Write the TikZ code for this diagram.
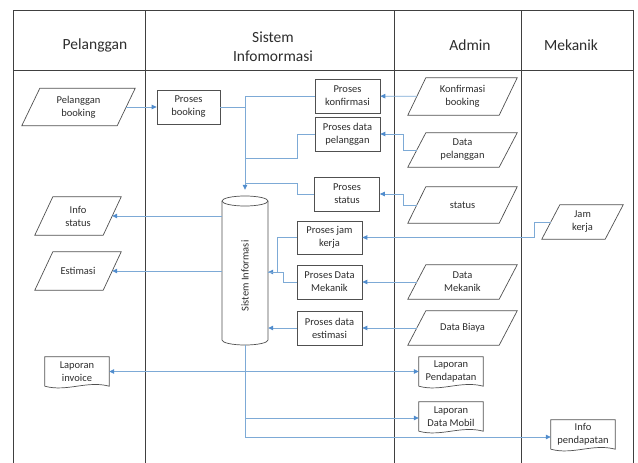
\documentclass[tikz,border=0pt]{standalone}
\usepackage{fontspec}
\setmainfont{Carlito}
\usetikzlibrary{arrows.meta}
\definecolor{lanec}{RGB}{64,64,64}
\definecolor{shpc}{RGB}{80,80,80}
\definecolor{txtc}{RGB}{45,45,45}
\definecolor{linec}{RGB}{125,170,214}
\definecolor{arrc}{RGB}{80,140,205}
\tikzset{
  lane/.style={draw=lanec, line width=0.8pt},
  head/.style={font=\fontsize{15.5}{19}\selectfont, text=txtc, align=center},
  shp/.style={draw=shpc, line width=0.7pt},
  nodetext/.style={font=\fontsize{10.5}{13}\selectfont, text=txtc, align=center, inner sep=0pt},
  procbox/.style={nodetext, shp, fill=white, minimum width=65pt, minimum height=34pt},
  parabox/.style={nodetext, minimum height=36pt},
  docbox/.style={nodetext, minimum width=64pt, minimum height=29pt},
  ln/.style={draw=linec, line width=0.8pt},
  arr/.style={ln, -{Triangle[length=5pt,width=4.5pt,color=arrc]}},
  darr/.style={ln, {Triangle[length=5pt,width=4.5pt,color=arrc]}-{Triangle[length=5pt,width=4.5pt,color=arrc]}},
}
\newcommand\parafr[1]{\draw[shp] ([xshift=9pt]#1.north west) -- ([xshift=9pt]#1.north east) -- ([xshift=-9pt]#1.south east) -- ([xshift=-9pt]#1.south west) -- cycle;}
\newcommand\docfr[1]{\draw[shp] (#1.south west) -- (#1.north west) -- (#1.north east) -- (#1.south east) .. controls +(-22,-6) and +(22,6) .. (#1.south west);}
\begin{document}
\begin{tikzpicture}[x=1pt,y=-1pt]
\useasboundingbox (0,0) rectangle (638,463);
% lanes
\draw[lane] (13,463) -- (13,10) -- (633,10) -- (633,463);
\draw[lane] (13,70) -- (633,70);
\draw[lane] (145,10) -- (145,463);
\draw[lane] (394,10) -- (394,463);
\draw[lane] (521,10) -- (521,463);
\node[head] (h1) at (95,45) {Pelanggan};
\node[head] (h2) at (273,47) {Sistem\\Infomormasi};
\node[head] (h3) at (470,45) {Admin};
\node[head] (h4) at (571,45) {Mekanik};

% Pelanggan lane
\node[parabox, minimum width=95pt, minimum height=37pt] (pb) at (78.5,107) {Pelanggan\\booking};
\node[parabox, minimum width=68pt, minimum height=38pt] (is) at (78,216) {Info\\status};
\node[parabox, minimum width=68pt, minimum height=38pt] (es) at (78,271) {Estimasi};
\node[docbox] (li) at (77,371.5) {Laporan\\invoice};

% Sistem lane
\node[procbox, minimum width=63pt] (prb) at (188.5,107) {Proses\\booking};
\node[procbox] (pk) at (347.5,96) {Proses\\konfirmasi};
\node[procbox] (pdp) at (347.5,134) {Proses data\\pelanggan};
\node[procbox] (ps) at (347,194) {Proses\\status};
\node[procbox, minimum height=33pt] (pjk) at (329.5,237.5) {Proses jam\\kerja};
\node[procbox] (pdm) at (329.5,282) {Proses Data\\Mekanik};
\node[procbox] (pde) at (329.5,328) {Proses data\\estimasi};

% cylinder
\draw[shp, fill=white] (222,201) -- (222,340) arc[start angle=180, end angle=360, x radius=23pt, y radius=5pt] -- (268,201);
\draw[shp, fill=white] (245,201) ellipse[x radius=23pt, y radius=5pt];
\node[minimum width=46pt, minimum height=149pt, inner sep=0pt] (cyl) at (245,270.5) {};
\node[nodetext, rotate=90] (cylt) at (245,276) {Sistem Informasi};

% Admin lane
\node[parabox, minimum width=91pt, minimum height=37pt] (kb) at (462.5,96.5) {Konfirmasi\\booking};
\node[parabox, minimum width=91pt, minimum height=34pt] (dp) at (462.5,150) {Data\\pelanggan};
\node[parabox, minimum width=91pt, minimum height=36pt] (st) at (462.5,205) {status};
\node[parabox, minimum width=91pt, minimum height=34pt] (dm) at (462.5,282) {Data\\Mekanik};
\node[parabox, minimum width=91pt, minimum height=34pt] (db) at (462.5,328) {Data Biaya};
\node[docbox] (lpd) at (451,371.5) {Laporan\\Pendapatan};
\node[docbox] (ldm) at (451,416.5) {Laporan\\Data Mobil};

% Mekanik lane
\node[parabox, minimum width=63pt, minimum height=34pt] (jk) at (582.5,222) {Jam\\kerja};
\node[docbox] (ipd) at (583,434.5) {Info\\pendapatan};

\parafr{pb}\parafr{is}\parafr{es}\parafr{kb}\parafr{dp}\parafr{st}\parafr{dm}\parafr{db}\parafr{jk}
\docfr{li}\docfr{lpd}\docfr{ldm}\docfr{ipd}

% junction coordinates
\coordinate (jpd) at (cyl.north |- 0,158);
\coordinate (jps) at (cyl.north |- 0,183);
\coordinate (jcr) at (cyl.east |- 0,272);

% connectors
\draw[arr] (pb) -- (prb);
\draw[ln] (prb.east) -- (prb.east -| cyl.north);
\draw[arr] (pk.west) -| ([yshift=6pt]cyl.north);
\draw[ln] (pdp.west) -- ++(-17,0) |- (jpd);
\draw[ln] (ps.west) -- ++(-17,0) |- (jps);
\draw[arr] (kb) -- (pk);
\draw[arr] (dp.west) -- ++(-13,0) |- (pdp.east);
\draw[arr] (st.west) -- ++(-13,0) |- (ps.east);
\draw[arr] (jk.west) -- ++(-16,0) |- (pjk.east);
\draw[arr] (dm) -- (pdm);
\draw[arr] (db) -- (pde);
\draw[arr] (pjk.west) -- ++(-19,0) |- (jcr);
\draw[ln] (pdm.west) -- ++(-13,0) |- (jcr);
\draw[arr] (pde.west) -- (pde.west -| cyl.east);
\draw[arr] (cyl.west |- is.east) -- (is.east);
\draw[arr] (cyl.west |- es.east) -- (es.east);
\draw[darr] (li.east) -- (lpd.west);
\draw[arr] (cyl.south) |- ([yshift=-2.5pt]ipd.west);
\draw[arr] (cyl.south |- ldm.west) ++(0,1.5) -- ([yshift=-1.5pt]ldm.west);
\end{tikzpicture}
\end{document}
